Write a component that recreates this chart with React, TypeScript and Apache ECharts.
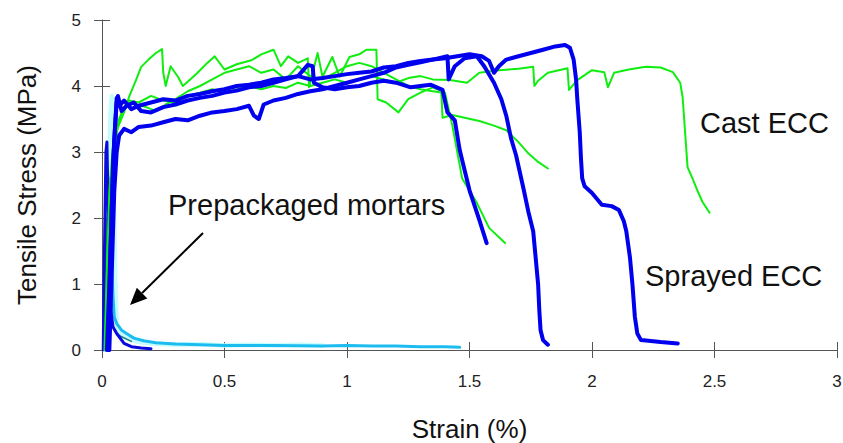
import React, { useEffect, useRef } from "react";
import * as echarts from "echarts";

// ---- Data (strain %, stress MPa) ----
const xTicks = [0, 0.5, 1, 1.5, 2, 2.5, 3];
const yTicks = [0, 1, 2, 3, 4, 5];

const castEcc1: number[][] = [
  [0.01, 0], [0.02, 1.2], [0.03, 2.4], [0.045, 3.1], [0.06, 3.33], [0.09, 3.6], [0.11, 3.83], [0.14, 4.1],
  [0.16, 4.29], [0.19, 4.4], [0.22, 4.5], [0.245, 4.56], [0.25, 4.2], [0.26, 4.0], [0.28, 4.3], [0.31, 4.14],
  [0.33, 4.0], [0.36, 4.1], [0.39, 4.2], [0.43, 4.35], [0.46, 4.45], [0.5, 4.25], [0.55, 4.33], [0.61, 4.39],
  [0.65, 4.48], [0.7, 4.55], [0.73, 4.3], [0.76, 4.45], [0.8, 4.35], [0.84, 4.42], [0.845, 3.98], [0.88, 4.5],
  [0.9, 4.14], [0.94, 4.44], [0.97, 4.14], [1.01, 4.44], [1.05, 4.48], [1.08, 4.55], [1.12, 4.55], [1.125, 3.8],
  [1.16, 3.75], [1.21, 3.6], [1.25, 3.8], [1.3, 3.9], [1.35, 3.98], [1.4, 3.9], [1.43, 3.4], [1.47, 2.6],
  [1.53, 2.23], [1.58, 1.85], [1.645, 1.62],
];
const castEcc2: number[][] = [
  [0.015, 0], [0.025, 1.5], [0.04, 2.8], [0.055, 3.2], [0.07, 3.5], [0.1, 3.75], [0.14, 3.72], [0.18, 3.68],
  [0.22, 3.62], [0.26, 3.72], [0.3, 3.8], [0.35, 3.92], [0.4, 4.0], [0.45, 4.1], [0.5, 4.2], [0.55, 4.25],
  [0.6, 4.3], [0.65, 4.2], [0.7, 4.25], [0.75, 4.1], [0.8, 4.3], [0.85, 4.15], [0.9, 4.1], [0.95, 4.2],
  [1.0, 4.3], [1.05, 4.35], [1.1, 4.3], [1.15, 4.2], [1.2, 4.1], [1.25, 4.0], [1.3, 3.95], [1.35, 3.92],
  [1.385, 3.9], [1.39, 3.52], [1.43, 3.56], [1.48, 3.52], [1.54, 3.47], [1.6, 3.4], [1.65, 3.33],
  [1.7, 3.15], [1.74, 2.98], [1.78, 2.85], [1.82, 2.75],
];
const castEcc3: number[][] = [
  [0.02, 0], [0.03, 1.5], [0.045, 2.8], [0.06, 3.3], [0.08, 3.6], [0.11, 3.78], [0.15, 3.75], [0.2, 3.85],
  [0.25, 3.78], [0.3, 3.75], [0.35, 3.85], [0.4, 3.9], [0.45, 3.95], [0.5, 3.9], [0.55, 3.95], [0.6, 4.0],
  [0.65, 3.95], [0.7, 4.0], [0.75, 3.97], [0.8, 4.05], [0.85, 4.0], [0.9, 4.05], [0.95, 4.1], [1.0, 4.05],
  [1.05, 4.1], [1.1, 4.15], [1.15, 4.1], [1.2, 4.05], [1.25, 4.12], [1.3, 4.15], [1.35, 4.1], [1.42, 4.09],
  [1.49, 4.05], [1.54, 4.2], [1.62, 4.24], [1.7, 4.26], [1.76, 4.29], [1.765, 4.0], [1.78, 4.08], [1.82, 4.2],
  [1.9, 4.27], [1.906, 3.94], [1.94, 4.09], [2.0, 4.24], [2.05, 4.21], [2.065, 3.98], [2.09, 4.2], [2.15, 4.25],
  [2.22, 4.29], [2.28, 4.28], [2.33, 4.21], [2.36, 4.05], [2.37, 3.83], [2.38, 3.3], [2.39, 2.77], [2.41, 2.6],
  [2.43, 2.42], [2.45, 2.25], [2.48, 2.08],
];

const sprayedEcc1: number[][] = [
  [0.02, 0], [0.03, 1.0], [0.04, 2.2], [0.05, 3.2], [0.06, 3.75], [0.065, 3.85], [0.08, 3.62], [0.1, 3.7],
  [0.13, 3.75], [0.16, 3.62], [0.2, 3.6], [0.25, 3.68], [0.3, 3.72], [0.35, 3.78], [0.4, 3.82], [0.45, 3.85],
  [0.5, 3.9], [0.55, 3.93], [0.6, 3.98], [0.65, 4.0], [0.7, 4.05], [0.75, 4.1], [0.8, 4.15], [0.84, 4.32],
  [0.86, 4.3], [0.865, 4.05], [0.9, 3.98], [0.95, 3.95], [1.0, 3.98], [1.05, 4.0], [1.1, 4.05], [1.15, 4.08],
  [1.2, 4.05], [1.26, 3.98], [1.34, 4.02], [1.39, 3.94], [1.41, 3.6], [1.44, 3.48], [1.46, 3.03], [1.5, 2.42],
  [1.54, 1.97], [1.57, 1.62],
];
const sprayedEcc2: number[][] = [
  [0.03, 0], [0.04, 1.2], [0.05, 2.4], [0.06, 3.0], [0.07, 3.25], [0.09, 3.35], [0.12, 3.3], [0.15, 3.38],
  [0.2, 3.4], [0.25, 3.45], [0.3, 3.5], [0.35, 3.48], [0.4, 3.55], [0.45, 3.6], [0.5, 3.62], [0.55, 3.65],
  [0.6, 3.7], [0.62, 3.55], [0.64, 3.5], [0.66, 3.72], [0.7, 3.78], [0.75, 3.82], [0.8, 3.88], [0.85, 3.92],
  [0.9, 3.95], [0.95, 4.0], [1.0, 4.05], [1.05, 4.1], [1.1, 4.15], [1.15, 4.2], [1.2, 4.28], [1.25, 4.32],
  [1.3, 4.36], [1.35, 4.4], [1.41, 4.45], [1.415, 4.1], [1.44, 4.3], [1.48, 4.42], [1.53, 4.45], [1.56, 4.3],
  [1.6, 4.05], [1.63, 3.8], [1.65, 3.55], [1.67, 3.2], [1.69, 2.95], [1.72, 2.45], [1.74, 2.1], [1.76, 1.8],
  [1.77, 1.4], [1.78, 1.0], [1.785, 0.6], [1.79, 0.3], [1.8, 0.15], [1.82, 0.08],
];
const sprayedEcc3: number[][] = [
  [0.025, 0], [0.035, 1.5], [0.045, 2.8], [0.055, 3.5], [0.06, 3.82], [0.07, 3.7], [0.09, 3.78], [0.12, 3.65],
  [0.15, 3.7], [0.2, 3.75], [0.25, 3.8], [0.3, 3.78], [0.35, 3.85], [0.4, 3.88], [0.45, 3.92], [0.5, 3.95],
  [0.55, 4.0], [0.6, 4.02], [0.65, 4.05], [0.7, 4.1], [0.75, 4.12], [0.8, 4.15], [0.85, 4.1], [0.9, 4.12],
  [0.95, 4.15], [1.0, 4.18], [1.05, 4.2], [1.1, 4.22], [1.15, 4.28], [1.2, 4.3], [1.25, 4.35], [1.3, 4.38],
  [1.35, 4.4], [1.4, 4.42], [1.45, 4.45], [1.5, 4.48], [1.55, 4.45], [1.58, 4.38], [1.6, 4.2], [1.62, 4.3],
  [1.65, 4.4], [1.7, 4.45], [1.75, 4.5], [1.8, 4.55], [1.85, 4.6], [1.89, 4.62], [1.91, 4.58], [1.925, 4.4],
  [1.935, 4.1], [1.94, 3.8], [1.95, 3.3], [1.955, 2.9], [1.96, 2.6], [1.97, 2.48], [2.0, 2.38], [2.04, 2.2],
  [2.08, 2.18], [2.11, 2.12], [2.13, 1.95], [2.14, 1.8], [2.155, 1.4], [2.165, 1.0], [2.175, 0.5], [2.185, 0.25],
  [2.2, 0.15], [2.28, 0.12], [2.35, 0.1],
];

const mortarLight: number[][] = [
  [0.015, 0], [0.02, 1.0], [0.025, 2.0], [0.03, 3.0], [0.035, 3.6], [0.04, 3.85], [0.045, 3.2], [0.05, 2.0],
  [0.055, 0.9], [0.06, 0.4], [0.07, 0.25], [0.1, 0.18], [0.15, 0.12], [0.2, 0.1], [0.3, 0.08], [0.4, 0.09],
  [0.5, 0.07], [0.6, 0.08], [0.7, 0.07], [0.8, 0.08], [0.9, 0.07],
];
const mortarCyan: number[][] = [
  [0.01, 0], [0.015, 0.8], [0.02, 1.5], [0.025, 2.2], [0.03, 2.6], [0.035, 2.0], [0.04, 1.3], [0.045, 0.8],
  [0.05, 0.5], [0.06, 0.4], [0.08, 0.3], [0.1, 0.25], [0.13, 0.18], [0.17, 0.14], [0.22, 0.11], [0.3, 0.09],
  [0.4, 0.08], [0.5, 0.07], [0.7, 0.07], [0.9, 0.06], [1.0, 0.07], [1.1, 0.06], [1.2, 0.06], [1.3, 0.05],
  [1.4, 0.05], [1.46, 0.04],
];
const mortarDark: number[][] = [
  [0.005, 0], [0.008, 1.0], [0.012, 2.0], [0.016, 3.0], [0.02, 3.15], [0.024, 2.4], [0.028, 1.6], [0.032, 1.0],
  [0.036, 0.6], [0.045, 0.35], [0.06, 0.25], [0.09, 0.1], [0.12, 0.05], [0.16, 0.03], [0.2, 0.02],
];
const mortarTeal: number[][] = [
  [0.01, 0], [0.014, 1.2], [0.018, 2.0], [0.022, 1.6], [0.026, 1.1], [0.03, 0.8], [0.035, 0.5], [0.045, 0.35],
  [0.06, 0.25], [0.08, 0.2], [0.12, 0.13],
];

const labels = {
  x: "Strain (%)",
  y: "Tensile Stress (MPa)",
  cast: "Cast ECC",
  sprayed: "Sprayed ECC",
  mortars: "Prepackaged mortars",
};

const GREEN = "#10ee10";
const BLUE = "#0000ee";

function line(data: number[][], color: string, width: number, z = 2) {
  return {
    type: "line",
    data,
    xAxisIndex: 0,
    yAxisIndex: 0,
    showSymbol: false,
    symbol: "none",
    z,
    lineStyle: { color, width, join: "round", cap: "round" },
  };
}

export default function App() {
  const ref = useRef<HTMLDivElement>(null);
  useEffect(() => {
    if (!ref.current) return;
    const chart = echarts.init(ref.current, null, { renderer: "svg" });
    const axisColor = "#555";
    const fmt = (v: number) => String(v);
    const mainX = {
      type: "value",
      min: xTicks[0],
      max: xTicks[xTicks.length - 1],
      interval: 0.5,
      position: "bottom",
      axisLine: { show: true, onZero: false, lineStyle: { color: axisColor, width: 1 } },
      axisTick: { show: true, inside: false, length: 8, lineStyle: { color: axisColor } },
      axisLabel: { margin: 23, fontSize: 17, color: "#222", fontFamily: "Liberation Sans", formatter: fmt },
      splitLine: { show: false },
      name: labels.x,
      nameLocation: "middle",
      nameGap: 66,
      nameTextStyle: { fontSize: 26, color: "#111", fontFamily: "Liberation Sans" },
    };
    const mainY = {
      type: "value",
      min: yTicks[0],
      max: yTicks[yTicks.length - 1],
      interval: 1,
      position: "left",
      axisLine: { show: true, onZero: false, lineStyle: { color: axisColor, width: 1 } },
      axisTick: { show: true, inside: false, length: 8, lineStyle: { color: axisColor } },
      axisLabel: { margin: 21, fontSize: 17, color: "#222", fontFamily: "Liberation Sans", formatter: fmt },
      splitLine: { show: false },
      name: labels.y,
      nameLocation: "middle",
      nameGap: 62,
      nameTextStyle: { fontSize: 26, color: "#111", fontFamily: "Liberation Sans" },
    };
    const innerX = {
      ...mainX,
      name: "",
      axisLine: { show: false },
      axisTick: { show: true, inside: true, length: 8, lineStyle: { color: axisColor } },
      axisLabel: { show: false },
    };
    const innerY = {
      ...mainY,
      name: "",
      axisLine: { show: false },
      axisTick: { show: true, inside: true, length: 8, lineStyle: { color: axisColor } },
      axisLabel: { show: false },
    };
    // arrow geometry (annotation)
    const tip = [130, 305];
    const start = [203, 233];
    const dx = tip[0] - start[0];
    const dy = tip[1] - start[1];
    const len = Math.hypot(dx, dy);
    const ux = dx / len, uy = dy / len;
    const hl = 17, hw = 7.5;
    const bx = tip[0] - ux * hl, by = tip[1] - uy * hl;
    const font = (s: number) => `${s}px "Liberation Sans", Arial, sans-serif`;
    chart.setOption({
      animation: false,
      backgroundColor: "#fff",
      grid: { left: 102, right: 6, top: 20, bottom: 93, containLabel: false, outerBoundsMode: "none" },
      xAxis: [mainX, innerX],
      yAxis: [mainY, innerY],
      series: [
        line(mortarLight, "#c4fcfc", 4.5, 2),
        line(mortarCyan, "#1cbcf0", 3, 3),
        line(mortarTeal, "#1f7f80", 1.5, 3),
        line(mortarDark, "#0a0adc", 3, 3),
        line(castEcc1, GREEN, 2, 4),
        line(castEcc2, GREEN, 2, 4),
        line(castEcc3, GREEN, 2, 4),
        line(sprayedEcc1, BLUE, 4, 5),
        line(sprayedEcc2, BLUE, 4, 5),
        line(sprayedEcc3, BLUE, 4, 5),
      ],
      graphic: [
        { type: "text", x: 700, y: 123, style: { text: labels.cast, font: font(29), fill: "#111", verticalAlign: "middle" } },
        { type: "text", x: 645, y: 276, style: { text: labels.sprayed, font: font(29), fill: "#111", verticalAlign: "middle" } },
        { type: "text", x: 168, y: 205, style: { text: labels.mortars, font: font(29), fill: "#111", verticalAlign: "middle" } },
        { type: "line", shape: { x1: start[0], y1: start[1], x2: bx, y2: by }, style: { stroke: "#000", lineWidth: 2 } },
        {
          type: "polygon",
          shape: { points: [[tip[0], tip[1]], [bx - uy * hw, by + ux * hw], [bx + uy * hw, by - ux * hw]] },
          style: { fill: "#000" },
        },
      ],
    });
    return () => chart.dispose();
  }, []);
  return <div ref={ref} style={{ position: "fixed", left: 0, top: 0, width: 843, height: 443 }} />;
}
